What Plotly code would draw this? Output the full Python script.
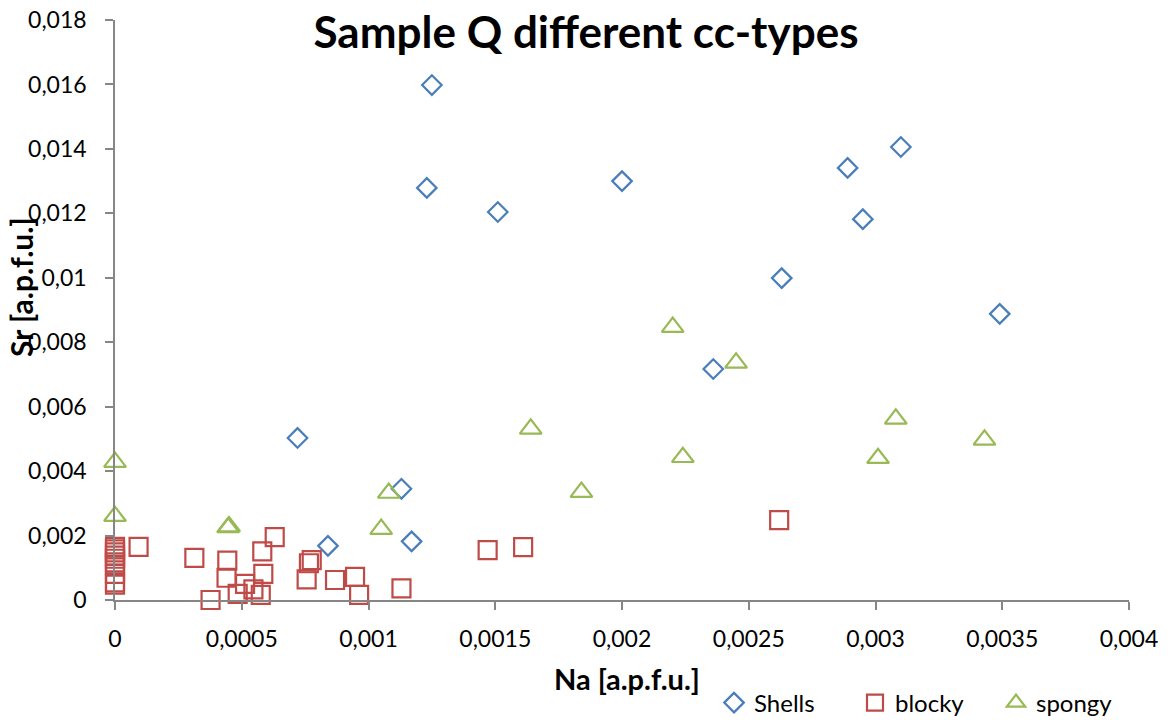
import plotly.graph_objects as go

# ---- data ----
shells_x = [0.00125, 0.00123, 0.00151, 0.00200, 0.00289, 0.00310, 0.00295,
            0.00263, 0.00349, 0.00236, 0.00072, 0.00113, 0.00084, 0.00117]
shells_y = [0.01598, 0.01279, 0.01204, 0.01300, 0.01341, 0.01406, 0.01182,
            0.00999, 0.00888, 0.00717, 0.00503, 0.00345, 0.00168, 0.00182]

blocky_x = [0, 0, 0, 0, 0, 0, 0, 0, 0, 0,
            0.000093, 0.000313, 0.000443, 0.00044, 0.000377, 0.000513,
            0.000484, 0.000546, 0.000575, 0.000585, 0.000581, 0.00063,
            0.000776, 0.000765, 0.000756, 0.000868, 0.000947, 0.000963,
            0.00113, 0.00147, 0.00161, 0.00262]
blocky_y = [0.00165, 0.00157, 0.00148, 0.00138, 0.00128, 0.00117, 0.00107,
            0.00081, 0.00055, 0.00048,
            0.00165, 0.00131, 0.00122, 0.00069, 0.0, 0.0005,
            0.00019, 0.00033, 0.00016, 0.00081, 0.00151, 0.00195,
            0.00124, 0.00114, 0.00064, 0.00062, 0.00072, 0.00016,
            0.00036, 0.00155, 0.00164, 0.00248]

spongy_x = [0, 0, 0.000446, 0.00045, 0.00105, 0.00108, 0.00164, 0.00184,
            0.00220, 0.00224, 0.00245, 0.00301, 0.00308, 0.00343]
spongy_y = [0.00428, 0.00260, 0.00225, 0.00228, 0.00220, 0.00332, 0.00531,
            0.00335, 0.00847, 0.00443, 0.00736, 0.00440, 0.00562, 0.00497]

x_tickvals = [0, 0.0005, 0.001, 0.0015, 0.002, 0.0025, 0.003, 0.0035, 0.004]
x_ticktext = ["0", "0,0005", "0,001", "0,0015", "0,002", "0,0025", "0,003", "0,0035", "0,004"]
y_tickvals = [0, 0.002, 0.004, 0.006, 0.008, 0.01, 0.012, 0.014, 0.016, 0.018]
y_ticktext = ["0", "0,002", "0,004", "0,006", "0,008", "0,01", "0,012", "0,014", "0,016", "0,018"]

title_text = "Sample Q different cc-types"
x_title = "Na [a.p.f.u.]"
y_title = "Sr [a.p.f.u.]"

BLUE = "#4A7EBB"
RED = "#BE4B48"
GREEN = "#98B954"
AXIS = "#868686"
FONT = "Lato"

fig = go.Figure()
fig.add_trace(go.Scatter(x=shells_x, y=shells_y, mode="markers", name="Shells",
                         marker=dict(symbol="diamond-open", size=15, color=BLUE,
                                     line=dict(width=2.2, color=BLUE)),
                         cliponaxis=False))
fig.add_trace(go.Scatter(x=blocky_x, y=blocky_y, mode="markers", name="blocky",
                         marker=dict(symbol="square-open", size=18, color=RED,
                                     line=dict(width=2.2, color=RED)),
                         cliponaxis=False))
fig.add_trace(go.Scatter(x=spongy_x, y=spongy_y, mode="markers", name="spongy",
                         marker=dict(symbol="triangle-up-open", size=19, color=GREEN,
                                     line=dict(width=2.2, color=GREEN)),
                         cliponaxis=False))

fig.update_layout(
    width=1168, height=720,
    margin=dict(l=115, r=39, t=20, b=120, autoexpand=False),
    paper_bgcolor="white", plot_bgcolor="white",
    font=dict(family=FONT, size=23, color="black"),
    title=dict(text="<b>" + title_text + "</b>", x=586 / 1168, xanchor="center",
               y=1 - 33 / 720, yanchor="middle", yref="container",
               font=dict(family=FONT, size=44, color="black")),
    showlegend=True,
    legend=dict(orientation="h", x=(714 - 115) / 1014, xanchor="left",
                y=(600 - 703) / 580, yanchor="middle",
                font=dict(family=FONT, size=24, color="black"),
                bgcolor="rgba(0,0,0,0)", itemsizing="trace",
                entrywidth=96, entrywidthmode="pixels"),
    xaxis=dict(range=[0, 0.004], tickvals=x_tickvals, ticktext=x_ticktext,
               showline=True, linecolor=AXIS, linewidth=1.5,
               ticks="outside", tickcolor=AXIS, ticklen=8, tickwidth=1.5,
               showgrid=False, zeroline=False, ticklabelstandoff=10,
               tickfont=dict(family=FONT, size=23, color="black")),
    yaxis=dict(range=[0, 0.018], tickvals=y_tickvals, ticktext=y_ticktext,
               showline=True, linecolor=AXIS, linewidth=1.5,
               ticks="outside", tickcolor=AXIS, ticklen=8, tickwidth=1.5,
               showgrid=False, zeroline=False, ticklabelstandoff=14,
               tickfont=dict(family=FONT, size=23, color="black")),
    annotations=[
        dict(text="<b>" + x_title + "</b>", xref="paper", yref="paper",
             x=(627 - 115) / 1014, y=(600 - 678) / 580, xanchor="center", yanchor="middle",
             showarrow=False, font=dict(family=FONT, size=29, color="black")),
        dict(text="<b>" + y_title + "</b>", xref="paper", yref="paper",
             x=(21 - 115) / 1014, y=(600 - 287) / 580, xanchor="center", yanchor="middle",
             textangle=-90, showarrow=False, font=dict(family=FONT, size=30, color="black")),
    ],
)

fig.write_html("out.html")
